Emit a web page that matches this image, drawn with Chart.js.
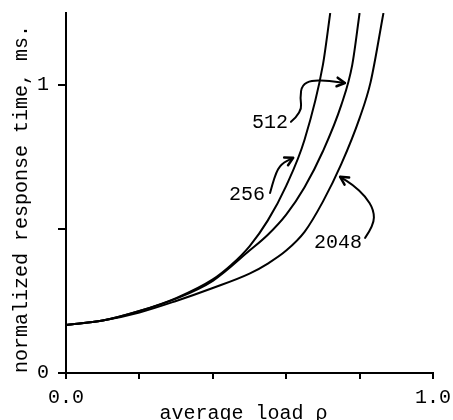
<!DOCTYPE html>
<html>
<head>
<meta charset="utf-8">
<script src="https://cdn.jsdelivr.net/npm/chart.js@4/dist/chart.umd.min.js"></script>
<style>
  html, body { margin: 0; padding: 0; background: #fff; }
</style>
</head>
<body>
<canvas id="c" width="453" height="420"></canvas>
<script>
// 平均負載 ρ 與正規化回應時間
const load256 = [0, 0.1, 0.2, 0.3, 0.4, 0.45, 0.5, 0.55, 0.6, 0.65, 0.7, 0.72]
const time256 = [0.167, 0.182, 0.215, 0.26, 0.325, 0.375, 0.44, 0.53, 0.65, 0.81, 1.07, 1.25]

const load512 = [0, 0.1, 0.2, 0.3, 0.4, 0.5, 0.55, 0.6, 0.65, 0.7, 0.75, 0.78, 0.8]
const time512 = [0.167, 0.182, 0.215, 0.258, 0.32, 0.425, 0.48, 0.55, 0.645, 0.77, 0.93, 1.07, 1.25]

const load2048 = [0, 0.1, 0.2, 0.3, 0.4, 0.5, 0.55, 0.6, 0.65, 0.7, 0.75, 0.8, 0.83, 0.865]
const time2048 = [0.167, 0.182, 0.21, 0.25, 0.295, 0.345, 0.38, 0.425, 0.49, 0.595, 0.725, 0.885, 1.01, 1.25]

// 只顯示兩端的刻度文字
const xTickLabels = { 0: "0.0", 1: "1.0" }
const yTickLabels = { 0: "0", 1: "1" }

const FONT = "'Liberation Mono', 'DejaVu Sans Mono', monospace"

// 曲線標籤與手繪箭頭 (資料座標)
const notes = [
  {
    text: "256",
    at: [0.493, 0.618],
    path: [[0.556, 0.625], [0.569, 0.6875], [0.586, 0.726], [0.619, 0.747]],
  },
  {
    text: "512",
    at: [0.556, 0.868],
    path: [[0.613, 0.872], [0.643, 0.906], [0.638, 0.958], [0.643, 1.0], [0.67, 1.017], [0.719, 1.014], [0.76, 1.007]],
  },
  {
    text: "2048",
    at: [0.741, 0.451],
    path: [[0.815, 0.469], [0.839, 0.514], [0.839, 0.566], [0.815, 0.615], [0.782, 0.653], [0.747, 0.681]],
  },
]

function toPoints(xs, ys) {
  return xs.map((x, i) => ({ x, y: ys[i] }))
}

function labelFor(map, value) {
  for (const k in map) {
    if (Math.abs(value - Number(k)) < 1e-6) return map[k]
  }
  return ""
}

// 繪製標籤文字與彎曲箭頭
const notePlugin = {
  id: "notes",
  afterDatasetsDraw(chart) {
    const { ctx, scales } = chart
    const px = (p) => [scales.x.getPixelForValue(p[0]), scales.y.getPixelForValue(p[1])]
    ctx.save()
    ctx.fillStyle = "#000"
    ctx.strokeStyle = "#000"
    ctx.font = "20px " + FONT
    ctx.textAlign = "center"
    ctx.textBaseline = "middle"
    ctx.lineWidth = 2
    ctx.lineCap = "round"
    ctx.lineJoin = "round"
    notes.forEach((n) => {
      const [tx, ty] = px(n.at)
      ctx.fillText(n.text, tx, ty)

      const pts = n.path.map(px)
      ctx.beginPath()
      ctx.moveTo(pts[0][0], pts[0][1])
      for (let i = 1; i < pts.length - 1; i++) {
        const mx = (pts[i][0] + pts[i + 1][0]) / 2
        const my = (pts[i][1] + pts[i + 1][1]) / 2
        ctx.quadraticCurveTo(pts[i][0], pts[i][1], mx, my)
      }
      const tip = pts[pts.length - 1]
      ctx.lineTo(tip[0], tip[1])
      ctx.stroke()

      // 箭頭
      const prev = pts[pts.length - 2]
      const ang = Math.atan2(tip[1] - prev[1], tip[0] - prev[0])
      const len = 9
      ctx.beginPath()
      ctx.moveTo(tip[0] - len * Math.cos(ang - 0.5), tip[1] - len * Math.sin(ang - 0.5))
      ctx.lineTo(tip[0], tip[1])
      ctx.lineTo(tip[0] - len * Math.cos(ang + 0.5), tip[1] - len * Math.sin(ang + 0.5))
      ctx.lineWidth = 2.5
      ctx.stroke()
      ctx.lineWidth = 2
    })
    ctx.restore()
  },
}

const curve = (data) => ({
  data,
  borderColor: "#000",
  borderWidth: 2,
  pointRadius: 0,
  fill: false,
  cubicInterpolationMode: "monotone",
})

new Chart(document.getElementById("c"), {
  type: "line",
  data: {
    datasets: [
      curve(toPoints(load256, time256)),
      curve(toPoints(load512, time512)),
      curve(toPoints(load2048, time2048)),
    ],
  },
  options: {
    responsive: false,
    animation: false,
    devicePixelRatio: 1,
    layout: { padding: { top: 13, right: 20, left: 0, bottom: 0 } },
    plugins: {
      legend: { display: false },
      tooltip: { enabled: false },
    },
    scales: {
      x: {
        type: "linear",
        min: 0,
        max: 1,
        ticks: {
          stepSize: 0.2,
          autoSkip: false,
          maxRotation: 0,
          padding: 7,
          color: "#000",
          font: { family: FONT, size: 20 },
          callback: (v) => labelFor(xTickLabels, v),
        },
        grid: { drawOnChartArea: false, tickLength: 6, color: "#000", lineWidth: 2 },
        border: { color: "#000", width: 2 },
        title: {
          display: true,
          // 尾端空白讓標題略向左偏, 與原圖對齊
          text: "average load ρ\u00a0",
          color: "#000",
          font: { family: FONT, size: 20, lineHeight: 1 },
          padding: { top: 0, bottom: -4 },
        },
        afterFit(scale) {
          // 固定高度, 並取消刻度文字造成的額外內距
          scale.height = 47
          scale.paddingLeft = 0
          scale.paddingRight = 0
        },
      },
      y: {
        min: 0,
        max: 1.25,
        ticks: {
          stepSize: 0.5,
          includeBounds: false,
          padding: 9,
          color: "#000",
          font: { family: FONT, size: 20 },
          callback: (v) => labelFor(yTickLabels, v),
        },
        grid: { drawOnChartArea: false, tickLength: 8, color: "#000", lineWidth: 2 },
        border: { color: "#000", width: 2 },
        title: {
          display: true,
          text: "normalized response time, ms.",
          align: "start",
          color: "#000",
          font: { family: FONT, size: 20, lineHeight: 1.2 },
          padding: { top: 10, bottom: 0 },
        },
        afterFit(scale) {
          scale.width = 66
          scale.paddingTop = 0
          scale.paddingBottom = 0
        },
      },
    },
  },
  plugins: [notePlugin],
})
</script>
</body>
</html>
